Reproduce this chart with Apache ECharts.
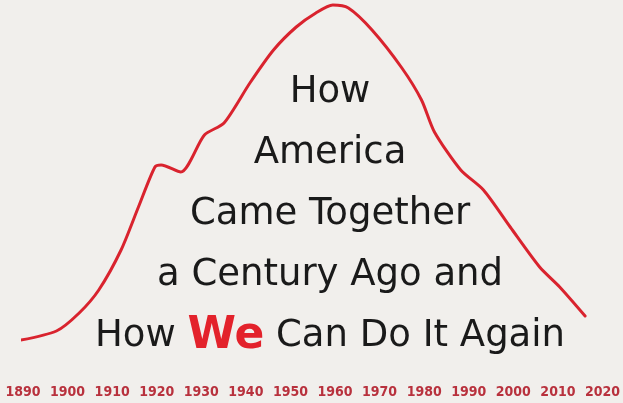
<!DOCTYPE html>
<html>
<head>
<meta charset="utf-8">
<script src="https://cdn.jsdelivr.net/npm/echarts@6/dist/echarts.min.js"></script>
<style>
  html, body { margin: 0; padding: 0; background: #f1efec; }
  #chart { width: 623px; height: 403px; }
</style>
</head>
<body>
<div id="chart"></div>
<script>
// years and a relative "togetherness" index
var years = [1888.5, 1897.5, 1902.6, 1907, 1912, 1915.9, 1919.6, 1921, 1925.4, 1930.7,
             1935.1, 1940.9, 1946.2, 1951.3, 1955.7, 1959.5, 1963, 1968.3, 1975, 1979.4,
             1982.3, 1988.2, 1993.3, 1999.3, 2005.9, 2010.4, 2016.1];
var values = [19, 29, 47, 70, 110, 153, 193, 195, 188, 225,
              237, 277, 310, 333, 347, 355, 352, 330, 292, 260,
              228, 190, 170, 133, 93, 73, 44];
var tickMin = 1890;
var tickMax = 2020;
var titleLines = ['How', 'America', 'Came Together', 'a Century Ago and', 'How {we|We} Can Do It Again'];

var chart = echarts.init(document.getElementById('chart'));

var points = years.map(function (y, i) { return [y, values[i]]; });

var option = {
    backgroundColor: '#f1efec',
    animation: false,
    grid: { left: 23, right: 13, top: 0, bottom: 43 },
    xAxis: {
        type: 'value',
        min: tickMin,
        max: tickMax,
        interval: 10,
        axisLine: { show: false },
        axisTick: { show: false },
        splitLine: { show: false },
        axisLabel: {
            margin: 25,
            color: '#b8313d',
            fontFamily: '"DejaVu Sans Condensed", "Liberation Sans Narrow", sans-serif',
            fontWeight: 'bold',
            fontSize: 14,
            showMinLabel: true,
            showMaxLabel: true,
            formatter: function (v) { return String(v); }
        }
    },
    yAxis: {
        type: 'value',
        min: 0,
        max: 360,
        show: false
    },
    series: [{
        type: 'line',
        data: points,
        smooth: 0.25,
        clip: false,
        symbol: 'none',
        lineStyle: { color: '#d9232e', width: 3, cap: 'round' }
    }],
    graphic: [{
        type: 'text',
        x: 330,
        y: 62,
        style: {
            text: titleLines.join('\n'),
            align: 'center',
            verticalAlign: 'top',
            fontFamily: '"DejaVu Sans"',
            fontSize: 37,
            lineHeight: 61,
            fill: '#1a1a1a',
            rich: {
                we: {
                    fontFamily: '"DejaVu Sans"',
                    fontWeight: 'bold',
                    fontSize: 44,
                    lineHeight: 61,
                    fill: '#e3222b',
                    color: '#e3222b'
                }
            }
        }
    }]
};

chart.setOption(option);
</script>
</body>
</html>
